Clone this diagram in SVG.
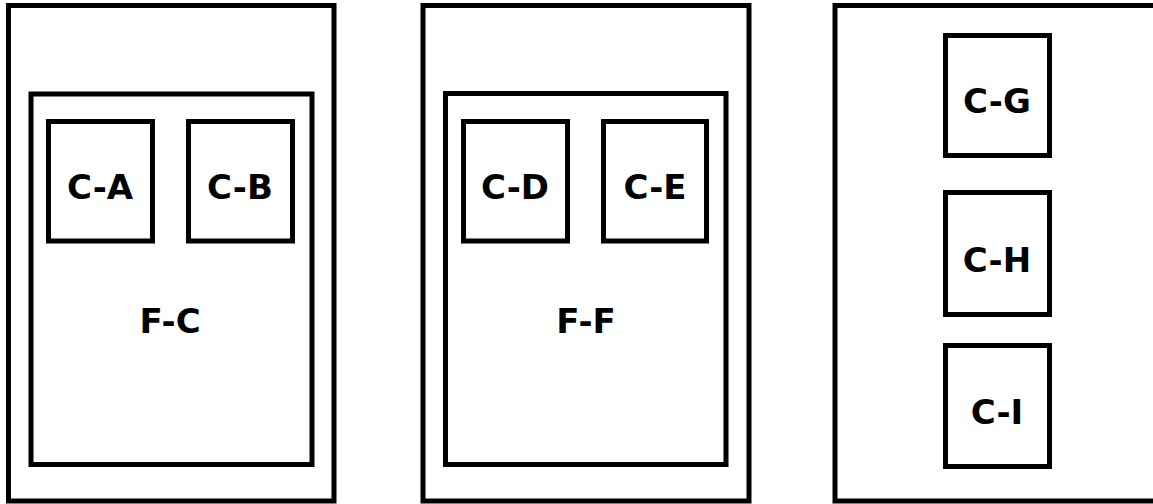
<svg xmlns="http://www.w3.org/2000/svg" width="1153" height="504" viewBox="0 0 1153 504">
<style>
rect{fill:none;stroke:#000;stroke-width:5}
text{font-family:"DejaVu Sans",Verdana,sans-serif;font-weight:bold;font-size:34px;text-anchor:middle;fill:#000}
</style>
<rect x="0" y="0" width="1153" height="504" style="fill:#fff;stroke:none"/>
<g id="outer-1"><rect x="8.5" y="5.5" width="325.5" height="495.5"/></g>
<g id="outer-2"><rect x="423" y="5.5" width="326" height="495.5"/></g>
<g id="outer-3"><rect x="835" y="5.5" width="326" height="495.5"/></g>
<g id="F-C"><rect x="31" y="94" width="281" height="370.5"/><text x="170" y="333">F-C</text></g>
<g id="F-F"><rect x="445.5" y="93.5" width="280.5" height="371"/><text x="586" y="333">F-F</text></g>
<g id="C-A"><rect x="48.5" y="121.5" width="104" height="119.5"/><text x="100" y="199">C-A</text></g>
<g id="C-B"><rect x="188.5" y="121.5" width="104" height="119.5"/><text x="240" y="199">C-B</text></g>
<g id="C-D"><rect x="463.5" y="121.5" width="104" height="119.5"/><text x="515" y="199">C-D</text></g>
<g id="C-E"><rect x="603.5" y="121.5" width="103" height="119.5"/><text x="655" y="199">C-E</text></g>
<g id="C-G"><rect x="945.5" y="35.5" width="104" height="120"/><text x="997" y="112.5">C-G</text></g>
<g id="C-H"><rect x="945.5" y="192.5" width="104" height="122"/><text x="997" y="272">C-H</text></g>
<g id="C-I"><rect x="945.5" y="345.5" width="104" height="121"/><text x="997" y="424">C-I</text></g>
<g id="connectors"></g>
</svg>
